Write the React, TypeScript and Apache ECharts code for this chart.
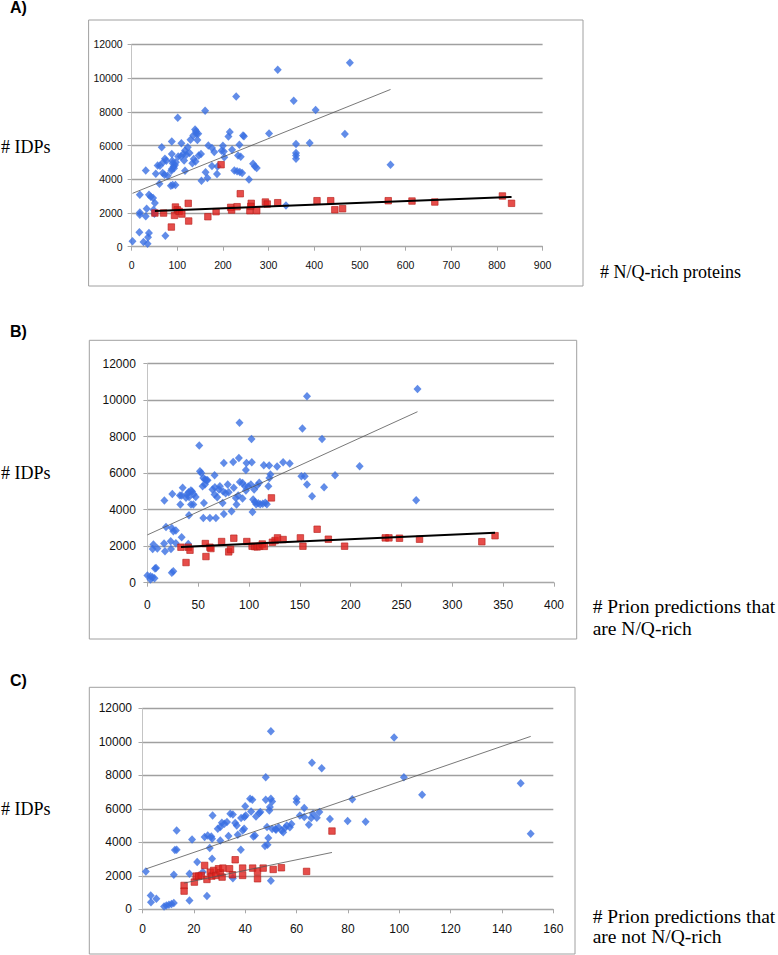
import React, { useEffect, useRef } from "react";
import * as echarts from "echarts";

// ---------- Data ----------
const aBlue: number[][] = [
  [2,316],[17,850],[26,277],[35,178],[36,553],[38,810],[74,652],
  [18,2035],[18,1897],[31,1798],[33,2253],[18,3083],[38,3083],[42,2964],[47,2885],[51,2588],[48,2193],[50,1950],
  [31,4525],[53,4328],[61,3735],[57,4821],[66,5889],[69,5000],[73,5217],[68,4367],[72,4268],[79,4209],[62,4801],[76,5100],
  [86,3616],[90,3655],[96,3655],[88,4600],[92,4750],[90,4950],[95,4850],[87,4500],[93,4650],[97,5000],[89,5100],
  [88,5493],[88,6244],[101,7647],[102,5355],[108,5355],[109,6126],
  [113,5500],[117,5700],[123,5900],[120,5450],[127,5550],[115,5118],[117,4505],[129,6343],
  [135,6600],[139,6950],[142,6700],[146,6700],[141,6850],[144,6323],
  [136,5200],[133,4950],[140,5050],[147,5400],[152,5500],[153,3912],[162,4407],[166,4071],[161,8062],[168,6007],
  [176,5849],[181,5612],[176,4782],[187,4308],[188,4762],[200,5987],[202,5651],[197,5690],[203,5296],
  [212,6540],[215,6797],[220,5750],[229,8912],[225,4525],[231,4466],[237,4426],[242,4367],[236,6046],[233,5414],[239,5335],[244,6600],[246,6550],
  [257,3991],[266,4920],[270,4762],[274,4663],[301,6718],[320,10492],[338,2450],[355,8655],[360,6086],[360,5552],[360,5414],[360,5217],
  [390,6145],[403,8102],[467,6679],[478,10907],[567,4861]
];
const aRed: number[][] = [
  [51,1996],[70,1996],[87,1166],[94,1857],[96,2352],[100,2193],[104,2095],[110,1936],[124,2569],[125,1522],[167,1778],[185,2075],
  [196,4861],[217,2332],[219,2174],[231,2371],[238,3142],[259,2134],[262,2569],[261,2391],[274,2134],[293,2648],[297,2530],[320,2608],
  [406,2727],[436,2727],[445,2193],[462,2253],[562,2727],[614,2707],[664,2650],[812,3006],[832,2573]
];
const bBlue: number[][] = [
  [0,400],[3,180],[5,300],[7,250],[3,350],[8.5,810],[7.5,776],[24,539],[25.5,630],
  [5.9,2091],[5.2,1853],[9.8,1872],[16.4,2146],[17.3,1726],[22.9,2273],[23.2,1853],[28,2164],
  [18.3,3058],[24,3003],[25.5,2821],[28,2857],[33.7,2492],[40.2,2127],
  [16.7,4501],[24.5,4866],[32.4,4282],[34.7,5196],[32,4775],[33.7,4775],[40.9,3697],
  [38,4650],[39,4850],[40.5,4950],[42.8,5050],[41,4700],[44,5000],[45.5,4850],[47.5,4700],
  [42.9,4282],[45.2,4282],[51,7514],[51.7,6108],[53,6017],[55,5743],[56.6,5652],[58.2,5615],[55.6,4373],
  [55,3551],[61.5,3551],[67.4,3551],[54.3,5287],[56.6,5378],[59.2,5615],
  [64,5104],[66.4,5232],[70.4,5104],[71.3,5287],[66.1,5889],[66.1,4830],[68.7,4684],[74,4373],[75.2,3770],[75.2,6565],
  [74.5,5000],[77,4900],[80,4950],[79,5380],[84.4,6620],[85,5196],[82.8,3916],[87,4647],[87.7,4282],[89.3,4775],
  [90,6839],[90.6,8765],[91,5524],[93.6,5469],[93.6,4610],[95.9,5287],[96.9,5049],[96.9,6181],[97.5,6565],
  [99.2,5268],[101.8,5378],[102.4,7880],[102.7,6601],[103.4,3880],[104,4556],[105.7,4428],
  [107,4300],[109,4350],[111,4300],[113.5,4330],[116,4380],[117.5,4300],[105,5104],[108,5323],[110,5470],
  [114.5,6436],[119.8,6418],[119,5287],[120,5743],[121,5926],[127.6,6364],[133.5,6601],[140,6528],
  [151.5,5834],[154.8,5834],[152.5,8445],[157,10216],[157,5378],[162,4738],[171.8,7880],[173.8,5232],[184.6,5889],[208.8,6382],[264.4,4519],[265.7,10617]
];
const bRed: number[][] = [
  [33,1945],[38,1105],[40.2,1945],[41.9,1780],[57,2146],[57.6,1433],[61.5,1945],[62.5,1872],[73,2255],[80,1689],[81.8,1817],[85,2438],
  [97.8,2255],[103,2000],[105.5,1980],[108,1960],[110.5,2000],[113,2120],[115,1990],[122,4647],[123,2218],[125.6,2310],[128,2456],[133.5,2365],
  [150.5,2456],[153,2000],[167,2930],[178,2383],[194,2000],[234,2456],[237.6,2456],[248,2438],[267.7,2383],[329,2247],[342,2575]
];
const cBlue: number[][] = [
  [1.3,2260],[3.2,827],[3.3,428],[5.4,627],[8.4,169],[9.3,229],[10.3,269],[11.3,309],[12.2,369],[18.3,528],[25.1,787],
  [12.2,2062],[18.3,2121],[12.6,3536],[13.3,3556],[13.3,4711],[19.3,4173],[21.3,2819],[23.5,2221],[24.2,4313],[25.4,4412],[26.2,3656],[27.1,3018],[27.3,5604],[27.1,4213],[26.8,4353],
  [29.3,4811],[30.3,4910],[30.9,5170],[31.9,5110],[32.9,5210],[30.3,4114],[33.5,4373],[34.2,5703],[35.2,5664],[36.1,5150],[36.7,5010],[37.1,4452],[38.3,3556],
  [38.4,5445],[39.7,5505],[40.2,5604],[40,6145],[39.6,4811],[39,4711],[41.9,6603],[42.8,6543],[42.3,5843],[43.2,4353],[43.8,4413],[44.2,5544],[45.5,5744],[45.9,5803],
  [48,7883],[48,6543],[48.5,4910],[47.7,3775],[48.7,3855],[49,4253],[49.4,5903],[49.6,6103],[50,6603],[50.5,6443],[50,10628],[50,1704],[35.2,1850],
  [50.5,4800],[51.8,4800],[53,4900],[54.2,4700],[55.5,4850],[56.2,5000],[57.4,4900],[58,5100],[52,4750],[54.8,4600],
  [60,6603],[60,6403],[61.3,5604],[63,5504],[63,6043],[64.8,5050],[65.7,5444],[66.4,5703],[67.9,5464],[68.9,5803],[66,8752],[69.8,8414],
  [73,5385],[79.9,5265],[81.7,6563],[86.9,5226],[98,10250],[101.8,7883],[108.9,6842],[147.3,7522],[151.2,4514]
];
const cRed: number[][] = [
  [16.2,1424],[16.2,1086],[20.2,1624],[20.9,1982],[21.9,1982],[22.9,2022],[24.2,2619],[25.1,1783],[26.4,2220],[27,1982],[27.7,2320],[28.6,2020],
  [29.6,2420],[30.3,2180],[31,1922],[31.3,2460],[33.9,2420],[35,2062],[36.1,2958],[39,2460],[39,2022],[42.9,2460],[44.8,2261],[44.8,1823],
  [47,2460],[50.9,2380],[54.1,2480],[63.9,2261],[73.8,4671]
];
// trendline coefficients: [intercept, slope]
const aBlueTrend = [3142, 10.9];
const aRedTrend = [2060, 1.071];
const bBlueTrend = [2620, 25.4];
const bRedTrend = [1878, 2.52];
const cBlueTrend = [2340, 52.8];
const cRedTrend = [1054, 31.7];
// axes
const yTicks = { min: 0, max: 12000, interval: 2000 };
const aX = { min: 0, max: 900, interval: 100 };
const bX = { min: 0, max: 400, interval: 50 };
const cX = { min: 0, max: 160, interval: 20 };
const panelLabels = ["A)", "B)", "C)"];
const yTitle = "# IDPs";
const xTitleA = ["# N/Q-rich proteins"];
const xTitleB = ["# Prion predictions that", "are N/Q-rich"];
const xTitleC = ["# Prion predictions that", "are not N/Q-rich"];

function trend(data: number[][], coef: number[]) {
  const xs = data.map((d) => d[0]);
  const lo = Math.min(...xs);
  const hi = Math.max(...xs);
  return [[lo, coef[0] + coef[1] * lo], [hi, coef[0] + coef[1] * hi]];
}

const SANS = '"Liberation Sans", Arial, sans-serif';
const SERIF = '"Liberation Serif", "Times New Roman", serif';

export default function App() {
  const ref = useRef<HTMLDivElement>(null);
  useEffect(() => {
    if (!ref.current) return;
    const chart = echarts.init(ref.current, undefined, { renderer: "svg" });

    const grids = [
      { left: 131.6, top: 44.3, width: 411, height: 202.4 },
      { left: 147.4, top: 363.7, width: 406.6, height: 219 },
      { left: 142.5, top: 708.3, width: 410.8, height: 201 },
    ];
    const xDefs = [aX, bX, cX];
    const fs = [10.5, 12, 12];
    const yMargins = [9, 11.5, 10.5];
    const xMargins = [13, 16, 13.5];
    const plain = (v: number) => String(v);

    const xAxis = xDefs.map((d, i) => ({
      type: "value",
      gridIndex: i,
      min: d.min,
      max: d.max,
      interval: d.interval,
      axisLine: { show: true, lineStyle: { color: "#a8a8a8", width: 1 } },
      axisTick: { show: true, length: 4, lineStyle: { color: "#a8a8a8" } },
      axisLabel: { color: "#111", fontFamily: SANS, fontSize: fs[i], margin: xMargins[i], formatter: plain },
      splitLine: { show: false },
    }));
    const yAxis = grids.map((_, i) => ({
      type: "value",
      gridIndex: i,
      min: yTicks.min,
      max: yTicks.max,
      interval: yTicks.interval,
      axisLine: { show: true, lineStyle: { color: "#c4c4c4", width: 1 } },
      axisTick: { show: true, length: 4, lineStyle: { color: "#a8a8a8" } },
      axisLabel: { color: "#111", fontFamily: SANS, fontSize: fs[i], margin: yMargins[i], formatter: plain },
      splitLine: { show: true, lineStyle: { color: "#a0a0a0", width: 1.4 } },
    }));

    const blueItem = { color: "#3a6fe2" };
    const redItem = { color: "#e0211d", borderColor: "#b8211c", borderWidth: 0.8 };
    const sets = [
      [aBlue, aRed, aBlueTrend, aRedTrend, 2],
      [bBlue, bRed, bBlueTrend, bRedTrend, 2],
      [cBlue, cRed, cBlueTrend, cRedTrend, 0.8],
    ] as any[];
    const series: any[] = [];
    sets.forEach(([blue, red, bt, rt, rw], i) => {
      series.push({
        type: "scatter", xAxisIndex: i, yAxisIndex: i, data: blue,
        symbol: "diamond", symbolSize: [8, 8.5], itemStyle: blueItem, z: 2,
      });
      series.push({
        type: "scatter", xAxisIndex: i, yAxisIndex: i, data: red,
        symbol: "rect", symbolSize: 6.5, itemStyle: redItem, z: 3,
      });
      series.push({
        type: "line", xAxisIndex: i, yAxisIndex: i, data: trend(blue, bt),
        symbol: "none", lineStyle: { color: "#555555", width: 0.8 }, z: 4, silent: true,
      });
      series.push({
        type: "line", xAxisIndex: i, yAxisIndex: i, data: trend(red, rt),
        symbol: "none", lineStyle: { color: rw > 1 ? "#000000" : "#555555", width: rw }, z: 4, silent: true,
      });
    });

    const boxes = [
      { x: 88.6, y: 20, w: 494.4, h: 266 },
      { x: 89.3, y: 340.3, w: 487.4, h: 298.7 },
      { x: 89.3, y: 687.3, w: 485.7, h: 266.7 },
    ];
    const graphic: any[] = [];
    boxes.forEach((b) => {
      graphic.push({
        type: "rect", shape: { x: b.x, y: b.y, width: b.w, height: b.h }, z: -1,
        style: { fill: "none", stroke: "#a0a0a0", lineWidth: 1 },
      });
    });
    const panelY = [7.5, 331.7, 680];
    panelLabels.forEach((t, i) => {
      graphic.push({
        type: "text",
        style: { text: t, x: 10, y: panelY[i], fill: "#000", font: `bold 16px ${SANS}`, verticalAlign: "middle" },
      });
    });
    const idpY = [146.7, 473.3, 809.3];
    idpY.forEach((y) => {
      graphic.push({
        type: "text",
        style: { text: yTitle, x: 1, y, fill: "#000", font: `18px ${SERIF}`, verticalAlign: "middle" },
      });
    });
    const titles = [
      { lines: xTitleA, x: 600, ys: [271.7], size: 18 },
      { lines: xTitleB, x: 592.7, ys: [606.7, 628.3], size: 19.5 },
      { lines: xTitleC, x: 592.7, ys: [916.7, 936.7], size: 19.5 },
    ];
    titles.forEach((t) => {
      t.lines.forEach((l, j) => {
        graphic.push({
          type: "text",
          style: { text: l, x: t.x, y: t.ys[j], fill: "#000", font: `${t.size}px ${SERIF}`, verticalAlign: "middle" },
        });
      });
    });

    chart.setOption({
      animation: false,
      backgroundColor: "#ffffff",
      grid: grids,
      xAxis,
      yAxis,
      series,
      graphic,
    } as any);
    return () => chart.dispose();
  }, []);

  return (
    <div
      ref={ref}
      style={{ position: "absolute", left: 0, top: 0, width: 778, height: 955, background: "#fff" }}
    />
  );
}
